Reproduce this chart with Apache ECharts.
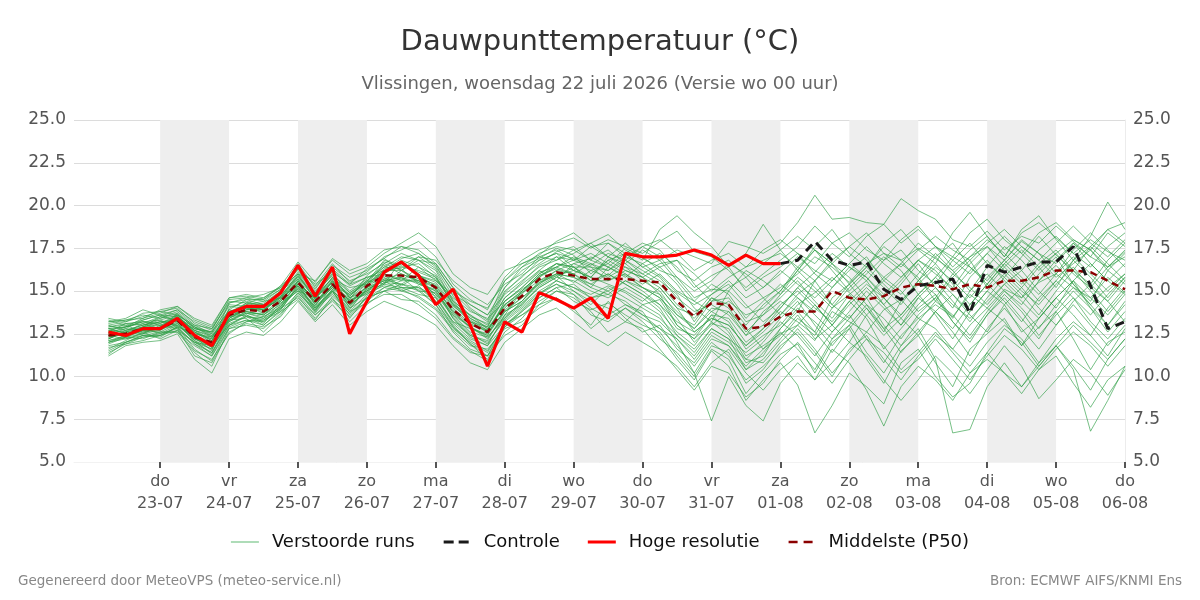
<!DOCTYPE html>
<html>
<head>
<meta charset="utf-8">
<script src="https://cdn.jsdelivr.net/npm/echarts@6/dist/echarts.min.js"></script>
<style>
  html, body { margin: 0; padding: 0; background: #fff; }
  #chart { width: 1200px; height: 600px; }
</style>
</head>
<body>
<div id="chart"></div>
<script>
// tijdstappen: elke 6 uur vanaf wo 22-07 06:00 (uren sinds 22-07 00:00)
const stepHours = 6;
const firstHour = 6;

const dayNames = ['do', 'vr', 'za', 'zo', 'ma', 'di', 'wo', 'do', 'vr', 'za', 'zo', 'ma', 'di', 'wo', 'do'];
const dayDates = ['23-07', '24-07', '25-07', '26-07', '27-07', '28-07', '29-07', '30-07', '31-07', '01-08', '02-08', '03-08', '04-08', '05-08', '06-08'];
const tickHours = [24, 48, 72, 96, 120, 144, 168, 192, 216, 240, 264, 288, 312, 336, 360];
const shadedDays = [[24, 48], [72, 96], [120, 144], [168, 192], [216, 240], [264, 288], [312, 336]];

const hires = [12.6, 12.4, 12.8, 12.8, 13.4, 12.4, 11.8, 13.7, 14.1, 14.1, 14.9, 16.5, 14.7, 16.4, 12.5, 14.4, 16.1, 16.7, 15.9, 14.2,
  15.1, 13.0, 10.6, 13.2, 12.6, 14.9, 14.5, 14.0, 14.6, 13.4, 17.2, 17.0, 17.0, 17.1, 17.4, 17.1, 16.5, 17.1, 16.6, 16.6];

// controle begint waar hoge resolutie stopt
const controlStart = 39;
const control = [16.6, 16.8, 17.9, 16.8, 16.5, 16.7, 15.1, 14.5, 15.3, 15.5, 15.7, 13.7, 16.5, 16.1, 16.4, 16.7, 16.7, 17.6, 15.3, 12.8, 13.2];

const p50 = [12.4, 12.5, 12.8, 12.8, 13.3, 12.3, 12.0, 13.6, 13.9, 13.8, 14.4, 15.5, 14.4, 15.4, 14.3, 15.3, 15.9, 15.9, 15.8, 15.2,
  13.9, 13.1, 12.6, 14.0, 14.7, 15.7, 16.1, 15.9, 15.7, 15.7, 15.7, 15.6, 15.5, 14.4, 13.5, 14.3, 14.2, 12.8, 12.9, 13.5,
  13.8, 13.8, 15.0, 14.6, 14.5, 14.7, 15.2, 15.4, 15.3, 15.1, 15.4, 15.2, 15.6, 15.6, 15.8, 16.2, 16.2, 16.1, 15.6, 15.1];

const members = [
  [12.0,12.4,12.9,13.2,13.0,12.1,11.6,13.4,14.0,14.2,14.6,15.9,14.8,16.0,14.9,15.6,16.4,17.0,16.8,16.0,14.5,13.4,12.9,14.6,15.5,16.5,17.0,16.8,17.2,16.6,17.5,17.0,16.2,15.8,14.6,15.1,15.0,14.0,14.6,15.2,16.0,17.0,16.4,15.5,16.6,17.2,16.8,17.5,16.9,16.2,17.0,17.6,16.8,17.9,17.2,16.6,17.8,17.0,16.4,17.3],
  [12.8,12.9,13.1,12.8,13.6,12.6,12.2,13.9,13.7,13.5,14.1,15.2,14.0,15.1,13.8,14.8,15.5,15.4,15.2,14.7,13.2,12.4,12.0,13.3,14.1,15.0,15.6,15.2,14.8,15.3,14.9,14.2,14.5,13.0,12.2,13.1,12.8,11.2,11.8,12.5,13.0,12.1,13.8,13.2,12.6,13.9,14.5,13.4,14.2,13.5,14.8,14.0,15.1,14.6,15.5,16.0,15.2,14.6,15.8,14.9],
  [11.3,12.0,12.3,12.5,12.8,11.2,10.8,12.6,13.1,12.9,13.5,14.8,13.6,14.6,13.2,14.2,15.0,14.5,14.4,13.6,12.3,11.5,10.9,12.6,13.4,14.6,15.2,14.4,13.9,14.3,13.6,13.0,12.6,11.2,10.0,11.6,11.0,9.0,10.2,11.3,11.9,10.2,12.0,12.8,11.0,9.6,11.5,12.4,10.8,9.4,11.6,12.5,13.4,11.8,12.9,13.8,12.2,10.4,12.0,12.6],
  [13.4,13.2,13.5,13.8,14.0,13.1,12.7,14.5,14.6,14.4,15.1,16.4,15.3,16.6,15.5,16.1,17.0,17.4,17.9,17.0,15.4,14.5,13.9,15.8,16.8,17.4,17.8,18.1,17.5,18.0,17.6,17.2,17.9,18.5,17.3,17.0,16.2,15.2,16.0,16.8,17.6,18.8,17.8,17.0,18.2,18.9,17.8,18.6,17.6,16.4,17.4,18.2,17.0,18.4,19.0,18.1,17.2,18.0,17.3,16.8],
  [12.2,12.6,12.5,13.0,13.4,12.9,12.4,13.2,13.8,13.6,14.2,15.0,14.6,15.8,14.6,15.0,15.4,16.2,15.5,14.8,13.8,12.8,12.5,13.8,14.4,15.4,16.0,15.5,16.2,15.8,16.4,15.6,15.0,13.6,12.8,13.8,13.2,11.6,12.4,13.0,14.2,14.9,15.8,14.9,14.0,12.6,14.4,15.6,14.8,13.4,15.0,16.0,15.0,14.2,15.6,16.5,15.4,14.2,15.2,16.0],
  [12.6,12.3,12.7,12.6,13.1,12.2,11.9,13.8,14.2,13.9,14.8,15.7,14.2,15.2,14.5,15.9,16.7,16.4,16.2,15.8,14.4,13.2,12.9,14.9,15.9,16.6,17.3,17.6,16.8,17.8,17.2,16.4,16.8,17.4,17.0,16.6,17.9,17.6,17.2,17.8,19.0,20.6,19.2,19.3,19.0,18.9,20.4,19.7,19.2,18.0,17.6,18.5,17.4,18.2,17.8,18.8,17.9,17.0,18.4,17.6],
  [12.0,12.2,12.4,12.3,12.9,11.6,10.9,12.9,13.3,13.0,13.8,14.9,13.9,15.0,13.6,14.6,15.2,15.0,14.7,14.0,12.8,12.0,11.4,13.1,13.6,14.2,14.6,14.0,12.8,13.6,14.2,13.8,12.4,11.0,9.8,11.5,10.6,8.6,9.8,10.8,9.5,6.7,8.3,10.2,9.4,8.4,10.8,11.6,10.0,8.8,9.6,11.4,10.2,9.0,10.4,11.2,9.6,8.2,9.8,10.6],
  [12.4,12.8,13.3,13.6,13.2,12.3,11.5,14.0,14.4,14.1,14.9,16.1,14.9,16.3,15.4,15.8,16.2,16.9,17.2,16.5,14.9,13.9,13.2,15.2,16.4,16.9,17.5,17.1,16.0,16.8,16.2,15.8,15.2,14.0,13.6,14.8,15.4,14.2,13.2,14.0,15.2,16.1,17.2,16.4,15.6,16.8,17.4,16.2,15.4,16.8,17.8,16.6,15.8,17.0,18.2,17.1,16.2,17.6,18.6,17.8],
  [12.9,13.0,12.6,12.2,12.7,12.0,11.8,13.0,13.5,13.4,13.9,15.3,14.1,15.6,14.0,15.1,15.6,15.8,15.4,15.0,13.6,12.6,12.3,13.5,14.3,15.2,15.8,16.4,15.6,16.0,15.4,14.8,14.0,12.4,11.4,12.8,12.2,10.4,11.0,12.2,13.4,12.6,14.6,15.4,14.2,12.8,13.6,14.8,13.6,12.2,13.8,15.0,14.2,12.6,13.4,14.6,15.6,14.0,13.0,14.4],
  [11.6,12.1,12.6,12.8,13.7,12.8,12.5,13.5,13.6,13.2,14.0,15.6,14.4,15.3,14.8,15.5,16.0,15.6,16.4,15.9,14.2,13.6,12.8,14.2,14.9,15.9,16.4,17.0,16.6,15.9,16.8,16.2,15.6,14.8,13.2,14.6,14.0,12.6,13.6,14.4,13.8,15.6,16.6,15.8,14.6,15.6,16.6,15.8,14.4,15.8,16.8,15.2,16.4,17.4,16.4,15.2,16.8,17.6,16.6,15.6],
  [13.2,13.4,13.9,13.6,13.5,12.7,12.1,13.7,14.3,14.6,15.3,16.2,15.0,16.0,15.0,15.7,16.5,16.0,15.6,15.2,13.4,12.3,11.8,13.6,15.0,16.0,16.6,16.2,17.0,16.4,15.8,16.6,17.2,16.4,15.2,15.9,16.4,15.0,15.8,16.4,17.2,16.0,15.2,16.2,17.0,15.6,14.8,16.0,17.2,16.2,15.0,16.4,17.6,16.8,15.6,16.8,17.8,16.6,15.6,16.6],
  [12.3,12.5,12.8,13.1,13.6,12.5,12.2,13.3,13.7,13.7,14.3,15.1,14.0,14.8,13.9,15.2,15.6,15.0,15.3,14.4,13.0,11.9,11.0,12.9,13.8,14.8,15.4,15.0,14.4,14.0,13.2,14.2,13.6,12.0,10.2,7.4,10.0,8.3,7.4,9.6,10.8,9.8,11.6,10.8,9.2,7.1,9.4,10.6,9.8,8.6,10.2,11.0,10.2,9.4,10.8,11.8,10.6,9.2,11.0,12.2],
  [12.7,12.9,13.4,13.9,14.1,13.3,12.9,14.6,14.8,14.6,15.2,16.0,15.6,16.8,16.0,16.4,17.2,17.8,18.4,17.6,16.0,15.2,14.8,16.2,16.6,17.0,17.4,16.8,17.6,17.0,17.8,16.9,16.4,15.4,14.0,13.2,15.0,16.2,15.6,14.8,16.2,17.4,16.6,15.4,16.4,17.6,16.8,15.6,17.0,17.8,16.4,15.6,16.8,18.0,17.2,16.0,17.4,18.4,17.4,16.4],
  [11.9,12.3,12.2,12.6,12.6,11.8,11.2,12.8,13.2,13.5,14.0,14.6,13.6,14.4,13.5,14.4,15.2,15.6,15.6,14.8,13.5,12.5,11.9,13.4,14.4,15.6,16.0,15.8,15.2,16.4,15.9,15.2,14.6,13.4,12.0,13.0,13.8,12.8,11.6,12.4,13.6,12.2,13.0,14.4,13.4,11.6,12.8,14.0,14.8,13.2,12.0,13.6,14.8,13.8,12.4,13.6,14.6,13.2,12.2,13.4],
  [13.0,12.7,13.0,13.4,13.8,12.9,12.6,14.2,14.1,14.3,15.0,15.8,14.7,15.7,15.2,15.4,16.3,16.6,15.9,15.6,14.6,13.8,13.4,14.4,15.2,16.2,15.6,16.6,16.9,17.4,16.6,17.4,16.8,15.6,14.4,15.4,14.8,13.4,14.4,15.4,14.6,13.8,15.2,16.4,15.8,14.6,15.6,16.8,16.0,15.2,16.6,17.6,16.4,15.4,16.6,17.4,16.2,15.4,16.8,17.8],
  [11.2,11.8,12.0,12.1,12.5,11.0,10.2,12.2,12.6,12.4,13.2,14.4,13.2,14.2,13.0,13.8,14.4,14.0,13.6,13.0,11.8,10.8,10.4,12.0,12.8,13.6,14.0,13.2,12.4,11.8,12.6,12.0,11.4,10.6,9.4,10.8,11.6,10.2,9.2,10.4,11.2,9.8,10.8,12.0,11.2,9.8,8.6,9.8,11.2,10.2,9.0,10.4,11.8,10.6,8.7,9.8,11.0,10.2,8.9,10.4],
  [12.5,12.7,13.0,13.3,12.9,12.5,12.3,13.6,14.2,14.4,14.6,15.4,14.6,15.5,14.7,15.6,15.4,16.8,16.4,15.6,14.8,14.2,13.6,14.8,15.6,16.4,16.8,17.4,17.8,17.0,16.4,16.0,16.6,16.8,15.4,14.4,15.2,15.8,14.6,13.6,14.8,15.6,14.2,13.4,14.6,15.8,15.0,13.8,14.6,16.0,15.2,14.2,15.4,16.2,15.0,14.0,15.6,16.6,15.6,14.8],
  [12.1,12.4,12.7,12.7,13.2,12.0,11.4,13.3,13.4,12.6,13.6,14.9,13.8,14.9,14.0,14.6,15.0,15.4,15.0,14.2,12.6,11.6,11.2,12.4,13.0,14.2,15.0,14.8,13.6,13.2,14.0,13.4,12.8,11.8,10.6,12.0,11.2,9.8,10.6,11.6,12.8,11.6,10.2,11.4,12.6,11.8,10.4,11.4,12.6,11.4,10.2,11.4,12.8,12.0,10.6,11.8,13.0,12.0,11.0,12.2],
  [12.6,13.1,13.2,13.0,13.3,12.6,12.0,14.3,14.5,14.2,15.0,16.6,15.2,16.4,15.6,16.0,16.6,16.2,17.0,16.8,15.6,14.8,14.2,15.4,16.0,17.0,16.8,17.2,17.8,18.3,17.4,16.8,18.6,19.4,18.4,17.6,16.4,17.2,18.9,17.4,16.2,17.6,18.6,17.2,16.4,17.8,18.6,17.4,16.6,18.4,19.6,18.2,17.0,18.6,19.4,18.0,16.8,18.2,20.2,18.6],
  [12.4,12.2,12.5,12.9,13.4,12.7,12.3,13.5,13.9,14.0,14.5,15.4,14.3,15.2,14.4,15.0,15.8,15.2,14.8,14.6,13.2,12.8,12.4,13.9,14.6,15.4,16.2,16.0,15.4,15.0,15.6,15.0,14.2,12.8,12.4,13.6,12.6,11.0,12.0,13.2,12.4,11.2,12.6,13.6,12.2,10.8,12.4,13.4,12.8,11.6,13.0,14.0,13.2,11.8,13.4,14.6,13.6,12.4,14.0,15.2],
  [12.8,12.5,12.9,13.5,13.9,13.0,12.5,13.9,14.5,14.5,15.1,16.0,14.9,15.9,14.6,15.4,16.6,17.2,16.8,16.2,14.4,13.6,13.0,14.6,15.4,16.2,17.0,16.2,15.8,16.8,17.2,16.4,15.8,14.6,13.8,14.2,13.6,12.4,13.8,14.6,15.6,14.4,13.4,14.8,15.6,14.2,15.4,16.6,15.2,14.0,15.8,16.8,15.6,14.6,16.0,17.0,15.4,14.4,16.2,17.2],
  [12.2,12.6,12.8,12.5,13.0,12.2,11.7,13.1,13.5,13.3,14.1,15.2,14.1,15.0,14.2,14.9,15.3,15.1,14.6,13.9,12.7,11.8,11.6,12.8,13.2,14.0,14.6,13.8,13.0,14.4,13.4,12.6,13.0,11.6,10.8,12.2,11.8,10.4,11.4,12.6,11.6,10.4,12.2,13.0,11.4,10.2,11.8,12.8,11.0,6.7,6.9,9.4,10.8,9.4,10.6,11.8,10.4,6.8,8.6,10.6],
  [13.1,13.3,13.6,13.4,13.7,12.8,12.6,14.1,14.0,13.8,14.7,15.9,14.5,16.2,15.3,15.8,16.0,16.6,16.0,15.1,13.9,13.0,12.7,14.2,15.0,15.8,16.6,16.4,16.4,15.6,16.0,15.4,16.0,15.0,14.4,13.8,14.4,13.6,14.0,15.0,16.2,15.2,14.2,15.4,16.4,15.4,14.4,15.4,16.4,15.6,14.6,15.8,16.8,15.8,14.8,16.0,17.0,16.0,15.0,16.0],
  [11.8,12.0,12.4,12.4,12.9,11.9,11.4,13.0,13.6,13.1,14.2,15.5,13.8,15.4,14.2,15.0,15.7,15.4,16.0,14.6,13.1,12.2,11.8,13.0,13.8,14.6,15.2,15.4,14.6,14.8,14.4,13.6,12.8,12.2,11.2,12.6,12.0,11.0,10.8,12.0,13.0,14.2,13.0,12.0,13.6,14.6,13.4,12.4,13.8,14.8,13.6,12.6,14.2,15.2,14.0,13.0,14.4,15.4,14.4,13.2],
  [12.5,12.9,13.2,13.1,13.5,12.6,12.1,13.7,13.8,13.6,14.4,15.6,14.4,15.3,14.3,15.3,16.1,16.4,16.6,15.8,14.2,13.2,12.6,14.4,15.1,15.8,16.4,16.8,16.4,16.2,16.8,17.6,17.0,15.8,15.0,15.6,16.6,16.0,15.2,16.0,17.0,16.2,15.6,16.6,17.6,16.6,15.8,16.8,17.6,16.8,16.0,17.2,18.2,17.2,16.2,17.2,18.0,17.4,16.4,17.0],
  [12.3,12.5,12.6,12.8,13.0,12.3,11.9,13.4,13.9,13.9,14.6,15.3,14.0,15.0,14.1,15.1,15.6,15.8,15.0,14.9,13.6,12.9,12.2,13.6,14.2,15.2,15.8,15.6,15.0,14.6,15.2,14.6,13.8,12.6,11.8,13.2,12.4,10.8,11.2,12.8,14.0,13.2,12.2,13.4,14.6,13.0,11.8,13.2,14.4,13.6,12.4,13.8,15.0,14.0,12.8,14.2,15.2,14.2,13.0,14.2],
  [12.9,13.1,13.0,13.2,13.2,12.4,12.0,13.6,14.1,13.7,14.5,15.7,14.6,15.6,14.8,15.4,16.2,16.2,15.7,15.4,14.1,13.4,12.8,14.0,14.9,15.6,16.2,16.6,16.2,16.6,16.0,15.2,14.8,13.8,12.8,14.0,13.8,12.4,13.0,14.2,15.0,14.0,13.2,14.4,15.4,14.6,13.6,14.8,15.8,14.8,13.8,15.0,16.0,15.0,14.2,15.4,16.4,15.2,14.4,15.6],
  [11.5,12.0,12.4,12.6,12.6,11.4,10.6,12.8,13.0,12.8,13.7,14.7,13.4,14.5,13.7,14.6,15.0,15.2,15.1,14.2,12.9,11.9,11.2,13.2,14.0,14.9,15.4,14.8,14.0,13.4,14.0,13.2,12.2,11.4,10.2,11.8,11.4,9.6,10.4,11.8,12.6,11.4,10.0,11.6,12.4,11.0,9.8,11.2,12.4,11.6,10.6,12.0,13.0,12.2,10.8,12.2,13.2,12.4,11.2,12.8],
  [13.3,13.0,13.3,13.6,13.9,13.2,12.8,14.4,14.3,14.2,14.9,16.3,15.1,16.5,15.8,16.2,16.9,16.2,16.8,16.6,15.2,14.2,13.6,15.2,16.2,16.8,17.2,16.4,15.8,17.0,16.6,15.8,16.4,16.8,16.0,15.0,15.8,16.4,16.8,17.2,16.4,15.6,16.8,17.6,16.8,15.8,16.6,17.8,17.0,16.0,17.0,18.0,17.2,16.2,17.4,18.2,17.2,16.4,17.6,18.4],
  [12.0,12.3,12.7,12.9,13.1,12.1,11.3,13.2,13.7,13.4,14.3,15.0,13.9,15.1,14.5,14.8,15.5,15.7,15.5,15.0,13.4,12.4,12.1,13.8,14.6,15.5,15.9,15.0,14.2,15.2,14.6,14.0,13.4,12.4,11.6,12.8,12.2,11.4,12.2,13.4,14.4,13.0,11.8,13.0,14.2,13.4,12.2,13.6,14.6,13.2,12.2,13.6,14.6,13.4,12.2,13.8,15.0,14.0,12.6,13.8],
  [12.7,12.6,13.1,13.5,13.3,12.4,11.7,13.5,14.3,14.0,14.7,16.0,14.5,15.8,14.9,15.5,16.8,16.5,17.0,16.3,14.7,13.5,13.1,15.0,15.8,16.8,17.2,16.9,16.5,17.2,16.8,16.0,15.4,14.2,13.4,14.6,14.2,13.0,14.2,15.0,16.4,17.4,16.2,15.0,16.0,17.0,16.2,14.8,15.8,17.0,16.4,15.4,16.6,17.6,16.8,15.8,16.6,17.4,16.2,15.4],
  [12.1,12.3,12.5,12.7,13.3,12.8,12.6,13.8,13.5,13.0,13.9,15.4,14.6,15.5,14.4,14.9,15.9,15.3,15.9,15.3,13.7,12.9,12.3,13.4,14.2,15.3,15.9,16.2,15.8,15.4,15.0,14.4,15.2,14.0,12.6,13.4,13.0,11.8,12.8,13.8,13.2,12.4,14.0,14.8,13.6,12.4,13.4,14.6,13.8,12.8,14.2,15.4,14.4,13.2,14.6,15.6,14.6,13.6,14.8,15.8],
  [13.0,13.2,13.7,13.8,13.6,13.0,12.8,14.3,14.6,14.8,15.2,16.3,15.4,16.1,15.4,16.3,16.9,17.6,17.4,16.6,15.2,14.0,13.3,15.6,16.6,17.1,17.9,18.4,17.6,17.8,17.0,17.6,18.0,17.2,16.2,16.8,17.2,16.4,17.4,18.0,17.2,16.6,17.8,18.4,17.4,16.8,18.0,18.8,17.6,17.0,18.4,19.2,18.0,17.2,18.4,19.0,18.0,17.4,18.6,19.0],
  [11.7,11.9,12.3,12.4,12.7,11.5,11.0,12.5,13.2,13.3,13.8,14.5,13.3,14.7,13.8,14.3,14.8,14.8,14.2,13.4,12.2,11.4,11.2,12.9,13.6,14.4,15.0,14.6,13.8,12.6,13.2,12.8,11.6,10.4,9.2,10.6,10.2,8.8,9.6,11.0,12.0,10.8,9.6,11.0,12.2,11.4,10.2,11.0,12.2,11.0,9.8,11.2,12.4,11.6,10.4,11.6,12.6,11.8,10.6,11.8],
  [12.6,12.8,12.7,12.9,13.5,12.7,12.4,13.5,14.0,13.9,14.7,15.5,14.2,15.4,14.2,15.3,16.2,16.6,16.1,15.7,14.3,13.3,12.7,14.1,14.8,15.9,16.3,16.0,16.6,16.2,17.0,16.6,15.9,14.9,14.2,14.8,15.6,14.6,15.2,16.2,15.4,14.6,15.6,16.6,15.8,14.8,15.8,16.8,16.2,15.0,16.2,17.2,16.2,15.2,16.4,17.2,16.0,15.2,16.4,17.4],
  [12.2,12.7,12.9,13.0,12.8,12.0,11.6,13.3,13.8,13.6,14.4,15.3,14.4,15.2,14.6,15.2,15.7,16.0,15.6,15.3,14.0,13.1,12.6,13.8,14.4,15.5,16.0,15.8,15.4,16.0,15.4,14.8,14.2,13.2,12.6,13.4,13.0,11.8,12.6,13.6,14.6,13.6,12.6,13.8,15.0,14.0,13.0,14.2,15.2,14.2,13.4,14.4,15.4,14.4,13.4,14.6,15.6,14.6,13.6,14.8],
  [11.4,11.9,12.1,12.4,12.9,11.9,11.2,13.0,13.3,13.2,14.0,15.1,13.7,15.0,13.4,14.7,15.4,15.2,15.2,14.4,12.9,12.1,11.5,13.0,13.9,14.8,15.6,15.2,14.6,15.0,14.2,13.6,13.2,12.2,11.0,12.4,11.8,10.6,11.6,12.8,13.8,12.6,11.4,12.8,14.0,12.8,11.4,12.6,13.8,12.6,11.2,12.8,14.0,12.8,11.6,13.0,14.2,13.0,11.8,13.0],
  [13.2,13.3,13.4,13.7,14.1,13.4,13.0,14.6,14.7,14.5,15.3,16.7,15.5,16.9,16.2,16.6,17.4,17.6,17.2,16.4,15.0,14.4,14.0,15.6,16.4,17.2,17.6,17.4,16.8,16.4,17.2,17.8,17.4,16.2,15.6,16.4,16.8,15.8,16.6,17.4,18.2,17.4,16.6,17.6,18.4,17.2,16.4,17.4,18.2,17.4,16.8,17.8,18.6,17.6,16.8,17.8,18.8,17.8,17.0,18.0],
  [12.4,12.6,12.9,13.2,13.3,12.2,11.8,13.4,13.9,14.1,14.4,15.6,14.3,15.6,14.4,15.2,16.0,15.7,15.9,15.5,14.2,13.2,12.7,14.2,15.0,16.0,16.6,16.4,15.6,15.6,16.2,15.8,14.8,13.0,12.2,13.6,13.4,12.0,12.8,14.0,15.2,14.2,13.0,14.2,15.2,14.2,13.0,14.6,15.6,14.4,13.2,14.6,15.8,14.8,13.6,15.0,16.2,15.0,13.8,15.0],
  [12.8,12.9,13.2,13.3,13.6,12.9,12.3,13.8,14.1,13.9,14.6,15.8,14.8,15.7,14.7,15.6,16.4,16.3,15.4,15.1,13.8,12.9,12.4,14.4,15.2,16.1,16.4,16.0,15.2,14.8,15.6,15.2,14.6,13.6,13.0,14.4,14.6,13.2,13.6,14.8,15.8,15.0,14.0,15.2,16.2,15.2,14.2,15.6,16.6,15.4,14.2,15.4,16.6,15.6,14.4,15.6,16.8,15.8,14.6,15.8]
];

const toPoints = (values, offset) => values.map((v, i) => [firstHour + stepHours * (i + (offset || 0)), v]);

// legenda-iconen als lijnstukjes (28x12 kader)
const iconThin = 'path://M0,0M28,12M0,5.5h28v1h-28z';
const iconSolid = 'path://M0,0M28,12M0,4.5h28v3h-28z';
const iconDash = 'path://M0,0M28,12M1,4.5h10v3h-10zM16,4.5h10v3h-10z';
const iconDashThin = 'path://M0,0M28,12M1,4.8h9v2.5h-9zM16,4.8h9v2.5h-9z';

const chart = echarts.init(document.getElementById('chart'));

const font = 'DejaVu Sans';
const memberSeries = members.map(m => ({
  name: 'Verstoorde runs',
  type: 'line',
  data: toPoints(m),
  symbol: 'none',
  silent: true,
  lineStyle: { width: 1, color: '#2e9e45', opacity: 0.65 },
  itemStyle: { color: '#5cb870' },
  z: 2
}));

const option = {
  animation: false,
  backgroundColor: '#fff',
  title: [
    {
      text: 'Dauwpunttemperatuur (°C)',
      left: 'center', top: 23,
      textStyle: { fontFamily: font, fontSize: 29, fontWeight: 'normal', color: '#333' }
    },
    {
      text: 'Vlissingen, woensdag 22 juli 2026 (Versie wo 00 uur)',
      left: 'center', top: 70,
      textStyle: { fontFamily: font, fontSize: 18, fontWeight: 'normal', color: '#666' }
    },
    {
      text: 'Gegenereerd door MeteoVPS (meteo-service.nl)',
      left: 13, top: 569,
      textStyle: { fontFamily: font, fontSize: 13.5, fontWeight: 'normal', color: '#888' }
    },
    {
      text: 'Bron: ECMWF AIFS/KNMI Ens',
      right: 13, top: 569,
      textStyle: { fontFamily: font, fontSize: 13.5, fontWeight: 'normal', color: '#888' }
    }
  ],
  legend: {
    data: [
      { name: 'Verstoorde runs', icon: iconThin, itemStyle: { color: '#5cb870' } },
      { name: 'Controle', icon: iconDash, itemStyle: { color: '#1a1a1a' } },
      { name: 'Hoge resolutie', icon: iconSolid, itemStyle: { color: '#ff0000' } },
      { name: 'Middelste (P50)', icon: iconDashThin, itemStyle: { color: '#8b0000' } }
    ],
    top: 528,
    left: 'center',
    itemWidth: 28,
    itemHeight: 12,
    itemGap: 28,
    textStyle: { fontFamily: font, fontSize: 18, color: '#111', padding: [0, 0, 0, 8] }
  },
  grid: { left: 74, right: 75, top: 120, bottom: 138 },
  xAxis: {
    type: 'value',
    min: -6,
    max: 360,
    splitLine: { show: false },
    axisLine: { show: true, lineStyle: { color: '#f2f2f2' } },
    axisTick: { show: true, customValues: tickHours, length: 6, lineStyle: { color: '#555', width: 2 } },
    axisLabel: {
      customValues: tickHours,
      fontFamily: font, fontSize: 16, color: '#555', lineHeight: 22, margin: 9,
      formatter: v => {
        const k = tickHours.indexOf(v);
        return k < 0 ? '' : dayNames[k] + '\n' + dayDates[k];
      }
    }
  },
  yAxis: [
    {
      type: 'value', min: 5, max: 25, interval: 2.5,
      axisLine: { show: false }, axisTick: { show: false },
      splitLine: { lineStyle: { color: '#dcdcdc', width: 1 } },
      axisLabel: { fontFamily: font, fontSize: 17, color: '#555', margin: 8, padding: [4, 0, 0, 0], formatter: v => v.toFixed(1) }
    },
    {
      type: 'value', min: 5, max: 25, interval: 2.5, position: 'right',
      axisLine: { show: true, lineStyle: { color: '#ececec' } }, axisTick: { show: false },
      splitLine: { show: false },
      axisLabel: { fontFamily: font, fontSize: 17, color: '#555', margin: 8, padding: [4, 0, 0, 0], formatter: v => v.toFixed(1) }
    }
  ],
  series: [
    {
      name: 'achtergrond',
      type: 'line',
      data: [],
      silent: true,
      z: 0,
      markArea: {
        silent: true,
        itemStyle: { color: '#eeeeee' },
        data: shadedDays.map(d => [{ xAxis: d[0], yAxis: 5 }, { xAxis: d[1], yAxis: 25 }])
      }
    },
    ...memberSeries,
    {
      name: 'Middelste (P50)',
      type: 'line',
      data: toPoints(p50),
      symbol: 'none',
      lineStyle: { width: 2.5, color: '#8b0000', type: [7, 5] },
      itemStyle: { color: '#8b0000' },
      z: 4
    },
    {
      name: 'Controle',
      type: 'line',
      data: toPoints(control, controlStart),
      symbol: 'none',
      lineStyle: { width: 3, color: '#1a1a1a', type: [9, 6] },
      itemStyle: { color: '#1a1a1a' },
      z: 5
    },
    {
      name: 'Hoge resolutie',
      type: 'line',
      data: toPoints(hires),
      symbol: 'none',
      lineStyle: { width: 3.2, color: '#ff0000' },
      itemStyle: { color: '#ff0000' },
      z: 6
    }
  ]
};

chart.setOption(option);
window.addEventListener('resize', () => chart.resize());
</script>
</body>
</html>
